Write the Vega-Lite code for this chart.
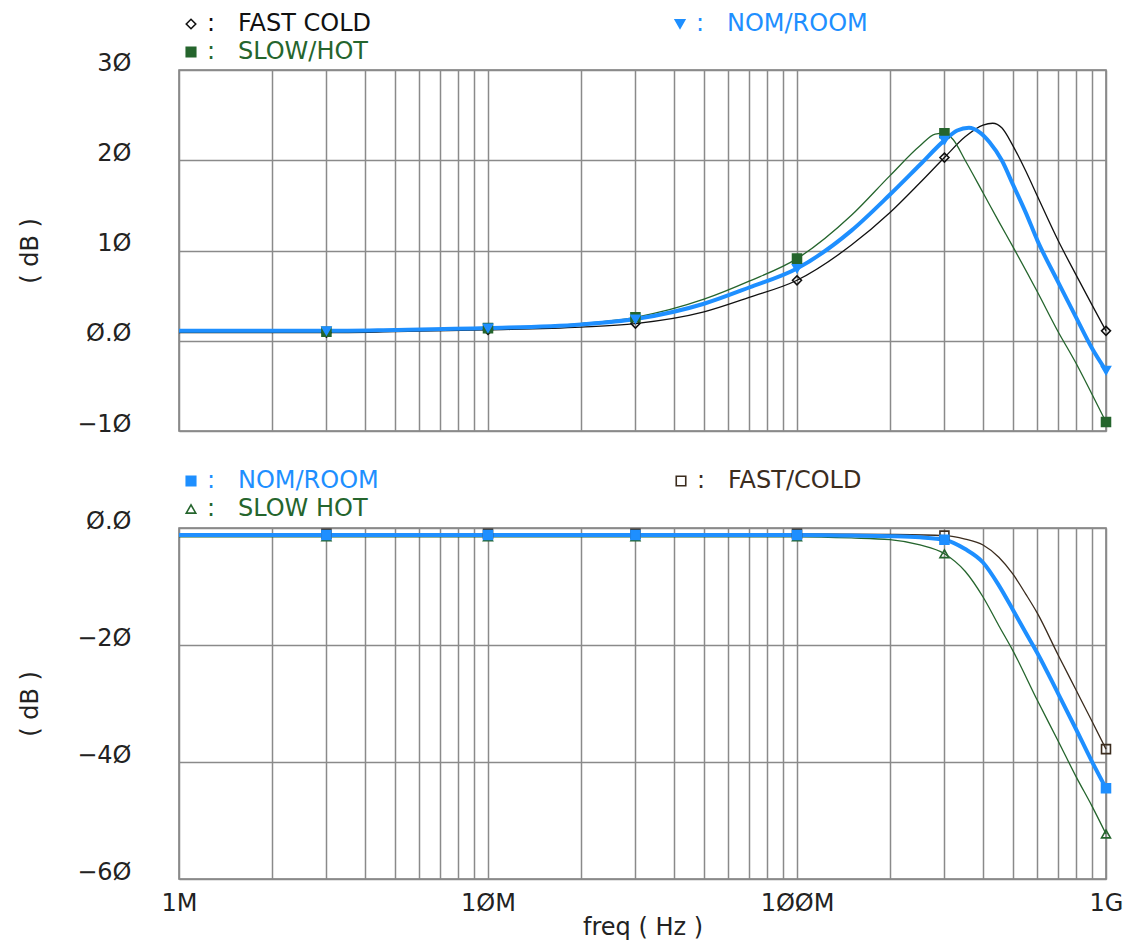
{
  "$schema": "https://vega.github.io/schema/vega-lite/v6.json",
  "background": "white",
  "padding": {"left": 17, "top": 11, "right": 10, "bottom": 0},
  "spacing": 31,
  "config": {
    "font": "DejaVu Sans",
    "view": {"stroke": "#7a7a7a", "strokeWidth": 1.5},
    "axis": {
      "domain": false, "ticks": false, "grid": true,
      "gridColor": "#8a8a8a", "gridWidth": 1.5, "gridOpacity": 1,
      "labelFont": "DejaVu Sans", "labelFontSize": 24, "labelColor": "#222222",
      "titleFont": "DejaVu Sans", "titleFontSize": 24, "titleFontWeight": "normal", "titleColor": "#222222",
      "labelOverlap": false, "labelBound": false, "labelFlush": false
    },
    "legend": {
      "orient": "top", "columns": 2, "title": null,
      "labelFont": "DejaVu Sans", "labelFontSize": 24, "labelLimit": 500,
      "symbolSize": 90, "symbolStrokeWidth": 1.6, "rowPadding": 4, "offset": 6, "padding": 0
    }
  },
  "datasets": {
    "top": [
      {"s": "FAST COLD", "f": 1e6, "db": 0.9}, {"s": "FAST COLD", "f": 2e6, "db": 0.9}, {"s": "FAST COLD", "f": 3e6, "db": 0.9},
      {"s": "FAST COLD", "f": 5e6, "db": 1.0}, {"s": "FAST COLD", "f": 1e7, "db": 1.2}, {"s": "FAST COLD", "f": 2e7, "db": 1.5},
      {"s": "FAST COLD", "f": 3e7, "db": 1.9}, {"s": "FAST COLD", "f": 5e7, "db": 3.2}, {"s": "FAST COLD", "f": 7e7, "db": 4.8},
      {"s": "FAST COLD", "f": 1e8, "db": 6.7}, {"s": "FAST COLD", "f": 1.5e8, "db": 10.6}, {"s": "FAST COLD", "f": 2e8, "db": 14.2},
      {"s": "FAST COLD", "f": 2.5e8, "db": 17.5}, {"s": "FAST COLD", "f": 3e8, "db": 20.3}, {"s": "FAST COLD", "f": 3.5e8, "db": 22.6},
      {"s": "FAST COLD", "f": 4e8, "db": 23.9}, {"s": "FAST COLD", "f": 4.3e8, "db": 24.1}, {"s": "FAST COLD", "f": 4.6e8, "db": 23.6},
      {"s": "FAST COLD", "f": 5e8, "db": 21.6}, {"s": "FAST COLD", "f": 5.5e8, "db": 18.8}, {"s": "FAST COLD", "f": 6e8, "db": 16.0},
      {"s": "FAST COLD", "f": 7e8, "db": 11.1}, {"s": "FAST COLD", "f": 8e8, "db": 7.3}, {"s": "FAST COLD", "f": 9e8, "db": 4.0},
      {"s": "FAST COLD", "f": 1e9, "db": 1.1},
      {"s": "SLOW/HOT", "f": 1e6, "db": 1.0}, {"s": "SLOW/HOT", "f": 2e6, "db": 1.0}, {"s": "SLOW/HOT", "f": 3e6, "db": 1.0},
      {"s": "SLOW/HOT", "f": 5e6, "db": 1.1}, {"s": "SLOW/HOT", "f": 1e7, "db": 1.4}, {"s": "SLOW/HOT", "f": 2e7, "db": 1.9},
      {"s": "SLOW/HOT", "f": 3e7, "db": 2.6}, {"s": "SLOW/HOT", "f": 5e7, "db": 4.6}, {"s": "SLOW/HOT", "f": 7e7, "db": 6.6},
      {"s": "SLOW/HOT", "f": 1e8, "db": 9.1}, {"s": "SLOW/HOT", "f": 1.5e8, "db": 13.9}, {"s": "SLOW/HOT", "f": 2e8, "db": 18.3},
      {"s": "SLOW/HOT", "f": 2.5e8, "db": 21.6}, {"s": "SLOW/HOT", "f": 2.8e8, "db": 22.9}, {"s": "SLOW/HOT", "f": 3e8, "db": 23.0},
      {"s": "SLOW/HOT", "f": 3.2e8, "db": 22.3}, {"s": "SLOW/HOT", "f": 3.5e8, "db": 20.0}, {"s": "SLOW/HOT", "f": 4e8, "db": 16.4},
      {"s": "SLOW/HOT", "f": 4.5e8, "db": 13.2}, {"s": "SLOW/HOT", "f": 5e8, "db": 10.4}, {"s": "SLOW/HOT", "f": 6e8, "db": 5.4},
      {"s": "SLOW/HOT", "f": 7e8, "db": 1.0}, {"s": "SLOW/HOT", "f": 8e8, "db": -2.5}, {"s": "SLOW/HOT", "f": 9e8, "db": -5.9},
      {"s": "SLOW/HOT", "f": 1e9, "db": -9.0},
      {"s": "NOM/ROOM", "f": 1e6, "db": 1.1}, {"s": "NOM/ROOM", "f": 2e6, "db": 1.1}, {"s": "NOM/ROOM", "f": 3e6, "db": 1.1},
      {"s": "NOM/ROOM", "f": 5e6, "db": 1.2}, {"s": "NOM/ROOM", "f": 1e7, "db": 1.4}, {"s": "NOM/ROOM", "f": 2e7, "db": 1.8},
      {"s": "NOM/ROOM", "f": 3e7, "db": 2.4}, {"s": "NOM/ROOM", "f": 5e7, "db": 4.1}, {"s": "NOM/ROOM", "f": 7e7, "db": 5.9},
      {"s": "NOM/ROOM", "f": 1e8, "db": 8.0}, {"s": "NOM/ROOM", "f": 1.5e8, "db": 12.2}, {"s": "NOM/ROOM", "f": 2e8, "db": 16.2},
      {"s": "NOM/ROOM", "f": 2.5e8, "db": 19.5}, {"s": "NOM/ROOM", "f": 3e8, "db": 22.2}, {"s": "NOM/ROOM", "f": 3.3e8, "db": 23.3},
      {"s": "NOM/ROOM", "f": 3.6e8, "db": 23.6}, {"s": "NOM/ROOM", "f": 3.9e8, "db": 23.1}, {"s": "NOM/ROOM", "f": 4.2e8, "db": 22.0},
      {"s": "NOM/ROOM", "f": 4.6e8, "db": 20.0}, {"s": "NOM/ROOM", "f": 5e8, "db": 17.3}, {"s": "NOM/ROOM", "f": 5.5e8, "db": 14.2},
      {"s": "NOM/ROOM", "f": 6e8, "db": 11.1}, {"s": "NOM/ROOM", "f": 7e8, "db": 6.5}, {"s": "NOM/ROOM", "f": 8e8, "db": 2.6},
      {"s": "NOM/ROOM", "f": 9e8, "db": -0.8}, {"s": "NOM/ROOM", "f": 1e9, "db": -3.3}
    ],
    "bottom": [
      {"s": "FAST/COLD", "f": 1e6, "db": -1.0}, {"s": "FAST/COLD", "f": 3e6, "db": -1.0}, {"s": "FAST/COLD", "f": 1e7, "db": -1.0},
      {"s": "FAST/COLD", "f": 3e7, "db": -1.0}, {"s": "FAST/COLD", "f": 1e8, "db": -1.0}, {"s": "FAST/COLD", "f": 2e8, "db": -1.1},
      {"s": "FAST/COLD", "f": 3e8, "db": -1.3}, {"s": "FAST/COLD", "f": 3.5e8, "db": -1.9}, {"s": "FAST/COLD", "f": 4e8, "db": -2.9},
      {"s": "FAST/COLD", "f": 4.5e8, "db": -5.0}, {"s": "FAST/COLD", "f": 5e8, "db": -7.9}, {"s": "FAST/COLD", "f": 5.5e8, "db": -11.3},
      {"s": "FAST/COLD", "f": 6e8, "db": -14.6}, {"s": "FAST/COLD", "f": 7e8, "db": -21.7}, {"s": "FAST/COLD", "f": 8e8, "db": -27.7},
      {"s": "FAST/COLD", "f": 9e8, "db": -33.0}, {"s": "FAST/COLD", "f": 1e9, "db": -37.8},
      {"s": "SLOW HOT", "f": 1e6, "db": -1.5}, {"s": "SLOW HOT", "f": 3e6, "db": -1.5}, {"s": "SLOW HOT", "f": 1e7, "db": -1.5},
      {"s": "SLOW HOT", "f": 3e7, "db": -1.5}, {"s": "SLOW HOT", "f": 1e8, "db": -1.5}, {"s": "SLOW HOT", "f": 1.5e8, "db": -1.7},
      {"s": "SLOW HOT", "f": 2e8, "db": -2.0}, {"s": "SLOW HOT", "f": 2.5e8, "db": -2.9}, {"s": "SLOW HOT", "f": 3e8, "db": -4.4},
      {"s": "SLOW HOT", "f": 3.5e8, "db": -7.4}, {"s": "SLOW HOT", "f": 4e8, "db": -11.8}, {"s": "SLOW HOT", "f": 4.5e8, "db": -16.7},
      {"s": "SLOW HOT", "f": 5e8, "db": -21.0}, {"s": "SLOW HOT", "f": 6e8, "db": -29.5}, {"s": "SLOW HOT", "f": 7e8, "db": -36.4},
      {"s": "SLOW HOT", "f": 8e8, "db": -42.5}, {"s": "SLOW HOT", "f": 9e8, "db": -47.5}, {"s": "SLOW HOT", "f": 1e9, "db": -52.3},
      {"s": "NOM/ROOM", "f": 1e6, "db": -1.2}, {"s": "NOM/ROOM", "f": 3e6, "db": -1.2}, {"s": "NOM/ROOM", "f": 1e7, "db": -1.2},
      {"s": "NOM/ROOM", "f": 3e7, "db": -1.2}, {"s": "NOM/ROOM", "f": 1e8, "db": -1.2}, {"s": "NOM/ROOM", "f": 1.5e8, "db": -1.3},
      {"s": "NOM/ROOM", "f": 2e8, "db": -1.4}, {"s": "NOM/ROOM", "f": 2.5e8, "db": -1.6}, {"s": "NOM/ROOM", "f": 3e8, "db": -2.0},
      {"s": "NOM/ROOM", "f": 3.5e8, "db": -3.6}, {"s": "NOM/ROOM", "f": 4e8, "db": -5.9}, {"s": "NOM/ROOM", "f": 4.5e8, "db": -9.8},
      {"s": "NOM/ROOM", "f": 5e8, "db": -14.0}, {"s": "NOM/ROOM", "f": 5.5e8, "db": -17.9}, {"s": "NOM/ROOM", "f": 6e8, "db": -21.4},
      {"s": "NOM/ROOM", "f": 7e8, "db": -28.3}, {"s": "NOM/ROOM", "f": 8e8, "db": -34.4}, {"s": "NOM/ROOM", "f": 9e8, "db": -39.9},
      {"s": "NOM/ROOM", "f": 1e9, "db": -44.5}
    ]
  },
  "vconcat": [
    {
      "width": 927, "height": 361,
      "data": {"name": "top"},
      "encoding": {
        "x": {"field": "f", "type": "quantitative",
          "scale": {"type": "log", "domain": [1e6, 1e9]},
          "axis": {"values": [1e6,2e6,3e6,4e6,5e6,6e6,7e6,8e6,9e6,1e7,2e7,3e7,4e7,5e7,6e7,7e7,8e7,9e7,1e8,2e8,3e8,4e8,5e8,6e8,7e8,8e8,9e8,1e9], "labels": false, "title": null}},
        "y": {"field": "db", "type": "quantitative",
          "scale": {"domain": [-10, 30], "nice": false},
          "axis": {"values": [-10, 0, 10, 20, 30], "title": "( dB )", "labelPadding": 48, "titlePadding": 34, "labelOffset": -7,
            "labelExpr": "datum.value == 30 ? '3Ø' : datum.value == 20 ? '2Ø' : datum.value == 10 ? '1Ø' : datum.value == 0 ? 'Ø.Ø' : '−1Ø'"}}
      },
      "layer": [
        {
          "mark": {"type": "line", "interpolate": "monotone"},
          "encoding": {
            "stroke": {"field": "s", "type": "nominal",
              "scale": {"domain": ["FAST COLD", "NOM/ROOM", "SLOW/HOT"], "range": ["#111111", "#1e8fff", "#25652d"]},
              "legend": {"columnPadding": 296, "labelExpr": "':\u00a0\u00a0 ' + datum.label",
                "labelColor": {"expr": "datum.value == 'NOM/ROOM' ? '#1e8fff' : datum.value == 'SLOW/HOT' ? '#25652d' : '#111111'"}}},
            "strokeWidth": {"condition": {"test": "datum.s == 'NOM/ROOM'", "value": 4}, "value": 1.3}
          }
        },
        {
          "transform": [{"filter": {"field": "f", "oneOf": [3e6, 1e7, 3e7, 1e8, 3e8, 1e9]}}],
          "mark": {"type": "point", "size": 80, "strokeWidth": 1.6, "opacity": 1},
          "encoding": {
            "stroke": {"field": "s", "type": "nominal"},
            "fill": {"field": "s", "type": "nominal",
              "scale": {"domain": ["FAST COLD", "NOM/ROOM", "SLOW/HOT"], "range": ["transparent", "#1e8fff", "#25652d"]}},
            "shape": {"field": "s", "type": "nominal",
              "scale": {"domain": ["FAST COLD", "NOM/ROOM", "SLOW/HOT"], "range": ["diamond", "triangle-down", "square"]}}
          }
        }
      ]
    },
    {
      "width": 927, "height": 351,
      "data": {"name": "bottom"},
      "encoding": {
        "x": {"field": "f", "type": "quantitative",
          "scale": {"type": "log", "domain": [1e6, 1e9]},
          "axis": {"values": [1e6,2e6,3e6,4e6,5e6,6e6,7e6,8e6,9e6,1e7,2e7,3e7,4e7,5e7,6e7,7e7,8e7,9e7,1e8,2e8,3e8,4e8,5e8,6e8,7e8,8e8,9e8,1e9],
            "title": "freq ( Hz )", "labelPadding": 12, "titlePadding": 0,
            "labelExpr": "datum.value == 1e6 ? '1M' : datum.value == 1e7 ? '1ØM' : datum.value == 1e8 ? '1ØØM' : datum.value == 1e9 ? '1G' : ''"}},
        "y": {"field": "db", "type": "quantitative",
          "scale": {"domain": [-60, 0], "nice": false},
          "axis": {"values": [-60, -40, -20, 0], "title": "( dB )", "labelPadding": 48, "titlePadding": 34, "labelOffset": -7,
            "labelExpr": "datum.value == 0 ? 'Ø.Ø' : datum.value == -20 ? '−2Ø' : datum.value == -40 ? '−4Ø' : '−6Ø'"}}
      },
      "layer": [
        {
          "mark": {"type": "line", "interpolate": "monotone"},
          "encoding": {
            "stroke": {"field": "s", "type": "nominal",
              "scale": {"domain": ["NOM/ROOM", "FAST/COLD", "SLOW HOT"], "range": ["#1e8fff", "#3b2c1e", "#25652d"]},
              "legend": {"columnPadding": 290, "labelExpr": "':\u00a0\u00a0 ' + datum.label",
                "labelColor": {"expr": "datum.value == 'NOM/ROOM' ? '#1e8fff' : datum.value == 'SLOW HOT' ? '#25652d' : '#3b2c1e'"}}},
            "strokeWidth": {"condition": {"test": "datum.s == 'NOM/ROOM'", "value": 4}, "value": 1.3}
          }
        },
        {
          "transform": [{"filter": {"field": "f", "oneOf": [3e6, 1e7, 3e7, 1e8, 3e8, 1e9]}}],
          "mark": {"type": "point", "size": 80, "strokeWidth": 1.6, "opacity": 1},
          "encoding": {
            "stroke": {"field": "s", "type": "nominal"},
            "fill": {"field": "s", "type": "nominal",
              "scale": {"domain": ["NOM/ROOM", "FAST/COLD", "SLOW HOT"], "range": ["#1e8fff", "transparent", "transparent"]}},
            "shape": {"field": "s", "type": "nominal",
              "scale": {"domain": ["NOM/ROOM", "FAST/COLD", "SLOW HOT"], "range": ["square", "square", "triangle-up"]}}
          }
        }
      ]
    }
  ],
  "resolve": {
    "scale": {"stroke": "independent", "fill": "independent", "shape": "independent"},
    "legend": {"stroke": "independent", "fill": "independent", "shape": "independent"}
  }
}
